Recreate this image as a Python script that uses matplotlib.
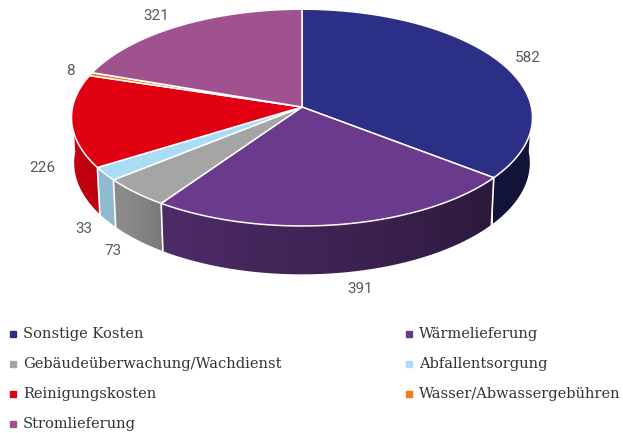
import numpy as np
import matplotlib.pyplot as plt
from matplotlib.colors import to_rgb
from matplotlib.patches import Polygon

# data
labels = ["Sonstige Kosten", "Wärmelieferung", "Gebäudeüberwachung/Wachdienst",
          "Abfallentsorgung", "Reinigungskosten", "Wasser/Abwassergebühren",
          "Stromlieferung"]
values = [582, 391, 73, 33, 226, 8, 321]
colors = ["#2b2f86", "#6a3b8d", "#a5a5a5", "#a9dcf5", "#e00012", "#f07d1a", "#a0528e"]

# little manual pushes for the value labels (pixels)
label_nudge = [(0, 2), (14, -4), (3, -3), (8, -3), (3, -1), (10, 2), (-6, 1)]

# perspective camera for the tilted pie
ALPHA = np.radians(27.9)
DIST = 9.05
SCALE = 2076
CX, CY = 302, 107
H = 0.225


def proj(t, r=1.0, y=0.0):
    t = np.radians(t)
    X = r * np.sin(t)
    Z = -r * np.cos(t)
    s, c = np.sin(ALPHA), np.cos(ALPHA)
    depth = DIST - y * s - Z * c
    return CX + SCALE * X / depth, CY - SCALE * (y * c - Z * s) / depth


def shade(col, t):
    f = np.interp(t, [90, 128, 214, 225, 245, 270], [0.42, 0.42, 0.74, 0.84, 0.86, 0.89])
    return np.array(to_rgb(col)) * f


total = float(sum(values))
bounds = np.concatenate([[0], np.cumsum(values)]) / total * 360

fig = plt.figure(figsize=(6.23, 4.33), dpi=100)
ax = fig.add_axes([0, 0, 1, 1])

# side walls with a horizontal gradient
for i in range(len(values)):
    a0, a1 = max(bounds[i], 90), min(bounds[i + 1], 270)
    if a1 <= a0:
        continue
    ts = np.linspace(a0, a1, 200)
    top = [proj(t) for t in ts]
    bot = [proj(t, y=-H) for t in ts[::-1]]
    wall = Polygon(top + bot, closed=True, facecolor='none', edgecolor='none')
    ax.add_patch(wall)
    xs = np.array([p[0] for p in top])
    ys = np.array([p[1] for p in top + bot])
    gx = np.linspace(xs.min() - 1, xs.max() + 1, 300)
    order = np.argsort(xs)
    gt = np.interp(gx, xs[order], ts[order])
    img = np.array([shade(colors[i], t) for t in gt])[None, :, :]
    im = ax.imshow(img, extent=(gx[0], gx[-1], ys.max() + 1, ys.min() - 1),
                   aspect='auto', interpolation='bilinear', zorder=1)
    im.set_clip_path(wall)

# white seams between walls
for b in bounds[1:-1]:
    if 90 < b < 270:
        x0, y0 = proj(b)
        x1, y1 = proj(b, y=-H)
        ax.plot([x0, x1], [y0, y1], color='white', lw=1.2, zorder=2)

# top faces
for i in range(len(values)):
    ts = np.linspace(bounds[i], bounds[i + 1], max(3, int(bounds[i + 1] - bounds[i]) * 2))
    pts = [proj(0, r=0)] + [proj(t) for t in ts]
    ax.add_patch(Polygon(pts, closed=True, facecolor=colors[i], edgecolor='white',
                         lw=1.1, zorder=3))

# value labels
for i, v in enumerate(values):
    mid = (bounds[i] + bounds[i + 1]) / 2
    yy = -H if np.cos(np.radians(mid)) < 0 else 0.0
    x, y = proj(mid, r=1.15, y=yy)
    dx, dy = label_nudge[i]
    ax.text(x + dx, y + dy, str(v), ha='center', va='center', fontsize=11,
            color='#595959', family='Roboto', zorder=4)

# legend
for i, lab in enumerate(labels):
    col, row = i % 2, i // 2
    lx, ly = 13 + col * 396, 334 + row * 30
    ax.plot([lx], [ly], marker='s', ms=4.5, color=colors[i], linestyle='none')
    ax.text(lx + 10, ly, lab, ha='left', va='center', fontsize=10.5,
            color='#333333', family='DejaVu Serif')

ax.set_xlim(0, 623)
ax.set_ylim(433, 0)
ax.axis('off')

fig.savefig('out.png', dpi=100)
